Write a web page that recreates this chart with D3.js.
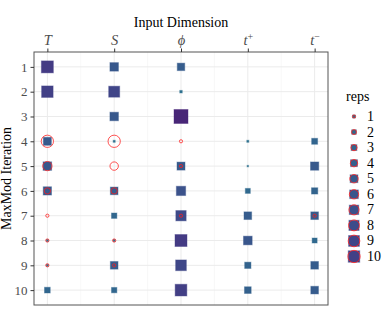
<!DOCTYPE html>
<html>
<head>
<meta charset="utf-8">
<script src="https://cdn.jsdelivr.net/npm/d3@7"></script>
<style>
  body { margin: 0; background: #fff; }
  text { font-family: "Liberation Serif", serif; }
</style>
</head>
<body>
<div id="chart"></div>
<script>
// input dimensions (x) and MaxMod iterations (y)
const dims = [1, 2, 3, 4, 5];
const dimLabels = [['T'], ['S'], ['\u03D5'], ['t', '+'], ['t', '\u2212']];
const iterations = [1, 2, 3, 4, 5, 6, 7, 8, 9, 10];

// filled squares, one value per iteration (null = nothing drawn)
const sqT      = [10.8, 10.0, null, 5.2, 5.8, 5.5, null, 0.6, 0.6, 2.9];
const sqS      = [5.8, 9.2, 5.8, 0.6, null, 4.8, 2.6, 0.6, 4.8, 2.6];
const sqPhi    = [4.6, 0.8, 14.4, null, 5.2, 6.8, 8.2, 10.8, 8.8, 10.3];
const sqTplus  = [null, null, null, 0.6, 0.4, 2.3, 4.8, 6.0, 3.4, 3.8];
const sqTminus = [null, null, null, 3.1, 5.5, 3.4, 4.8, 2.3, 4.8, 4.8];

// red open circles: reps
const repsT      = [0, 0, 0, 10, 6, 3, 1, 1, 1, 0];
const repsS      = [0, 0, 0, 10, 5, 3, 0, 1, 1, 0];
const repsPhi    = [0, 0, 0, 1, 1, 0, 1, 0, 0, 0];
const repsTplus  = [0, 0, 0, 0, 0, 0, 0, 0, 0, 0];
const repsTminus = [0, 0, 0, 0, 0, 0, 1, 0, 0, 0];

const legendReps = [1, 2, 3, 4, 5, 6, 7, 8, 9, 10];

const squareCols = [sqT, sqS, sqPhi, sqTplus, sqTminus];
const repsCols = [repsT, repsS, repsPhi, repsTplus, repsTminus];

const squares = [];
const circles = [];
dims.forEach((d, i) => {
    iterations.forEach((it, j) => {
        if (squareCols[i][j] != null) squares.push({dim: d, it: it, v: squareCols[i][j]});
        if (repsCols[i][j] > 0) circles.push({dim: d, it: it, v: repsCols[i][j]});
    });
});

const width = 389, height = 312;
const panel = {left: 34, right: 328, top: 52, bottom: 305};

const svg = d3.select('#chart').append('svg')
    .attr('width', width)
    .attr('height', height);

const x = d3.scaleLinear()
    .domain([0.8, 5.2])
    .range([panel.left, panel.right]);
const y = d3.scalePoint()
    .domain(iterations)
    .range([panel.top, panel.bottom])
    .padding(0.6);

const side = d3.scaleSqrt().domain([0, 10]).range([0, 12.5]);
const diam = d3.scaleSqrt().domain([0, 10]).range([0, 13.3]);
const tone = d3.scaleLinear().domain([0, 15]).range([0.38, 0.095]);
const colour = v => d3.interpolateViridis(tone(v));

// grid
const grid = svg.append('g');
grid.selectAll('.minor')
    .data([1.5, 2.5, 3.5, 4.5])
    .enter().append('line')
        .attr('x1', d => x(d)).attr('x2', d => x(d))
        .attr('y1', panel.top).attr('y2', panel.bottom)
        .attr('stroke', '#f3f3f3').attr('stroke-width', 0.6);
grid.selectAll('.vmajor')
    .data(dims)
    .enter().append('line')
        .attr('x1', d => x(d)).attr('x2', d => x(d))
        .attr('y1', panel.top).attr('y2', panel.bottom)
        .attr('stroke', '#ebebeb').attr('stroke-width', 1);
grid.selectAll('.hmajor')
    .data(iterations)
    .enter().append('line')
        .attr('x1', panel.left).attr('x2', panel.right)
        .attr('y1', d => y(d)).attr('y2', d => y(d))
        .attr('stroke', '#ebebeb').attr('stroke-width', 1);

// squares
const drawSquare = (sel, cx, cy) => sel
    .attr('x', d => cx(d) - (side(d.v) - 1) / 2)
    .attr('y', d => cy(d) - (side(d.v) - 1) / 2)
    .attr('width', d => Math.max(side(d.v) - 1, 0.5))
    .attr('height', d => Math.max(side(d.v) - 1, 0.5))
    .attr('fill', d => colour(d.v))
    .attr('stroke', d => colour(d.v))
    .attr('stroke-opacity', 0.4)
    .attr('stroke-width', 1);

svg.append('g').selectAll('rect')
    .data(squares)
    .enter().append('rect')
    .call(drawSquare, d => x(d.dim), d => y(d.it));

// circles
svg.append('g').selectAll('circle')
    .data(circles)
    .enter().append('circle')
        .attr('cx', d => x(d.dim))
        .attr('cy', d => y(d.it))
        .attr('r', d => diam(d.v) / 2 - 0.5)
        .attr('fill', 'none')
        .attr('stroke', '#ff1a1a')
        .attr('stroke-opacity', 0.75)
        .attr('stroke-width', 1);

// panel border
svg.append('rect')
    .attr('x', panel.left).attr('y', panel.top)
    .attr('width', panel.right - panel.left)
    .attr('height', panel.bottom - panel.top)
    .attr('fill', 'none')
    .attr('stroke', '#555')
    .attr('stroke-width', 1);

// x axis on top
const xAxis = svg.append('g')
    .attr('transform', 'translate(0,' + panel.top + ')')
    .call(d3.axisTop(x).tickValues(dims).tickSize(3.5).tickPadding(3).tickFormat(''));
xAxis.select('.domain').remove();
xAxis.selectAll('line').attr('stroke', '#333');
xAxis.selectAll('.tick').append('text')
    .attr('y', -7)
    .attr('fill', '#4d4d4d')
    .attr('font-size', 14.5)
    .attr('font-style', 'italic')
    .attr('text-anchor', 'middle')
    .each(function(d) {
        const parts = dimLabels[d - 1];
        const t = d3.select(this);
        t.append('tspan').text(parts[0]);
        if (parts[1]) {
            t.append('tspan')
                .attr('dy', -5.5)
                .attr('font-size', 10)
                .attr('font-style', 'normal')
                .text(parts[1]);
        }
    });

// y axis
const yAxis = svg.append('g')
    .attr('transform', 'translate(' + panel.left + ',0)')
    .call(d3.axisLeft(y).tickSize(3.5).tickPadding(3));
yAxis.select('.domain').remove();
yAxis.selectAll('line').attr('stroke', '#333');
yAxis.selectAll('text')
    .attr('fill', '#4d4d4d')
    .attr('font-size', 13)
    .attr('font-family', '"Liberation Serif", serif');

// titles
svg.append('text')
    .attr('x', (panel.left + panel.right) / 2)
    .attr('y', 27)
    .attr('text-anchor', 'middle')
    .attr('font-size', 14)
    .text('Input Dimension');
svg.append('text')
    .attr('transform', 'translate(11,' + (panel.top + panel.bottom) / 2 + ') rotate(-90)')
    .attr('text-anchor', 'middle')
    .attr('font-size', 14)
    .text('MaxMod Iteration');

// legend
const legend = svg.append('g');
legend.append('text')
    .attr('x', 346).attr('y', 101)
    .attr('font-size', 14)
    .text('reps');
const ly = d3.scalePoint().domain(legendReps).range([116.5, 256.5]);
const keys = legend.selectAll('.key')
    .data(legendReps.map(v => ({v: v})))
    .enter().append('g');
keys.append('rect')
    .call(drawSquare, () => 354, d => ly(d.v));
keys.append('circle')
    .attr('cx', 354)
    .attr('cy', d => ly(d.v))
    .attr('r', d => diam(d.v) / 2 - 0.5)
    .attr('fill', 'none')
    .attr('stroke', '#ff1a1a')
    .attr('stroke-opacity', 0.8)
    .attr('stroke-width', 1);
keys.append('text')
    .attr('x', 367)
    .attr('y', d => ly(d.v) + 4.5)
    .attr('font-size', 14)
    .text(d => d.v);
</script>
</body>
</html>
